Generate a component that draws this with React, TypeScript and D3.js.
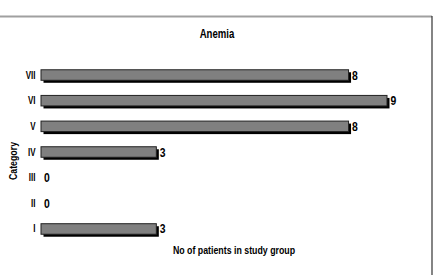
import React from 'react';
import { scaleBand, scaleLinear } from 'd3';

const width = 435;
const height = 275;

const categories = ['I', 'II', 'III', 'IV', 'V', 'VI', 'VII'];
const patients = [3, 0, 0, 3, 8, 9, 8];

// narrow face: Liberation Sans squeezed horizontally
const font = '"Liberation Sans", Arial, sans-serif';
const narrow = 0.8;

// categories run bottom-up, so VII sits on top
const yScale = scaleBand<string>()
    .domain([...categories].reverse())
    .range([62.2, 241.8])
    .paddingInner(0.59)
    .paddingOuter(0.295);

const xScale = scaleLinear().domain([0, 9]).range([41, 387]);

const shadow = 2.5;

type LabelProps = {
    x: number; y: number; size: number; weight?: number;
    anchor?: 'start' | 'middle' | 'end'; rotate?: number; children: React.ReactNode;
};

const Label = ({ x, y, size, weight = 400, anchor = 'start', rotate = 0, children }: LabelProps) => (
    <text transform={`translate(${x},${y}) rotate(${rotate}) scale(${narrow},1)`}
        textAnchor={anchor} fontFamily={font} fontSize={size} fontWeight={weight} fill="#000">
        {children}
    </text>
);

const App = () => {
    const bh = yScale.bandwidth();
    return (
        <svg width={width} height={height}
            style={{ position: 'absolute', left: 0, top: 0, background: '#fff' }}>
            {/* frame */}
            <line x1={0} x2={432} y1={16.5} y2={16.5} stroke="#a0a0a0" strokeWidth={2} />
            <line x1={432} x2={432} y1={16} y2={height} stroke="#333" strokeWidth={1.2} />

            <Label x={217} y={38} size={12} weight={700} anchor="middle">Anemia</Label>

            {categories.map((c, i) => {
                const y = yScale(c) as number;
                const x0 = xScale(0);
                const w = xScale(patients[i]) - x0;
                const cy = y + bh / 2;
                return (
                    <g key={c}>
                        <Label x={35.5} y={cy + 3.5} size={10} weight={700} anchor="end">{c}</Label>
                        {patients[i] > 0 && (
                            <>
                                <rect x={x0 + shadow} y={y + shadow} width={w} height={bh} fill="#000" />
                                <rect x={x0} y={y} width={w} height={bh} fill="#808080"
                                    stroke="#222" strokeWidth={1} />
                            </>
                        )}
                        <Label x={x0 + w + (patients[i] > 0 ? shadow + 1 : 3)} y={cy + 4.5}
                            size={13} weight={700}>{patients[i]}</Label>
                    </g>
                );
            })}

            <Label x={17} y={161} size={11} weight={700} anchor="middle" rotate={-90}>Category</Label>
            <Label x={234} y={254} size={11} weight={700} anchor="middle">No of patients in study group</Label>
        </svg>
    );
};

export default App;
